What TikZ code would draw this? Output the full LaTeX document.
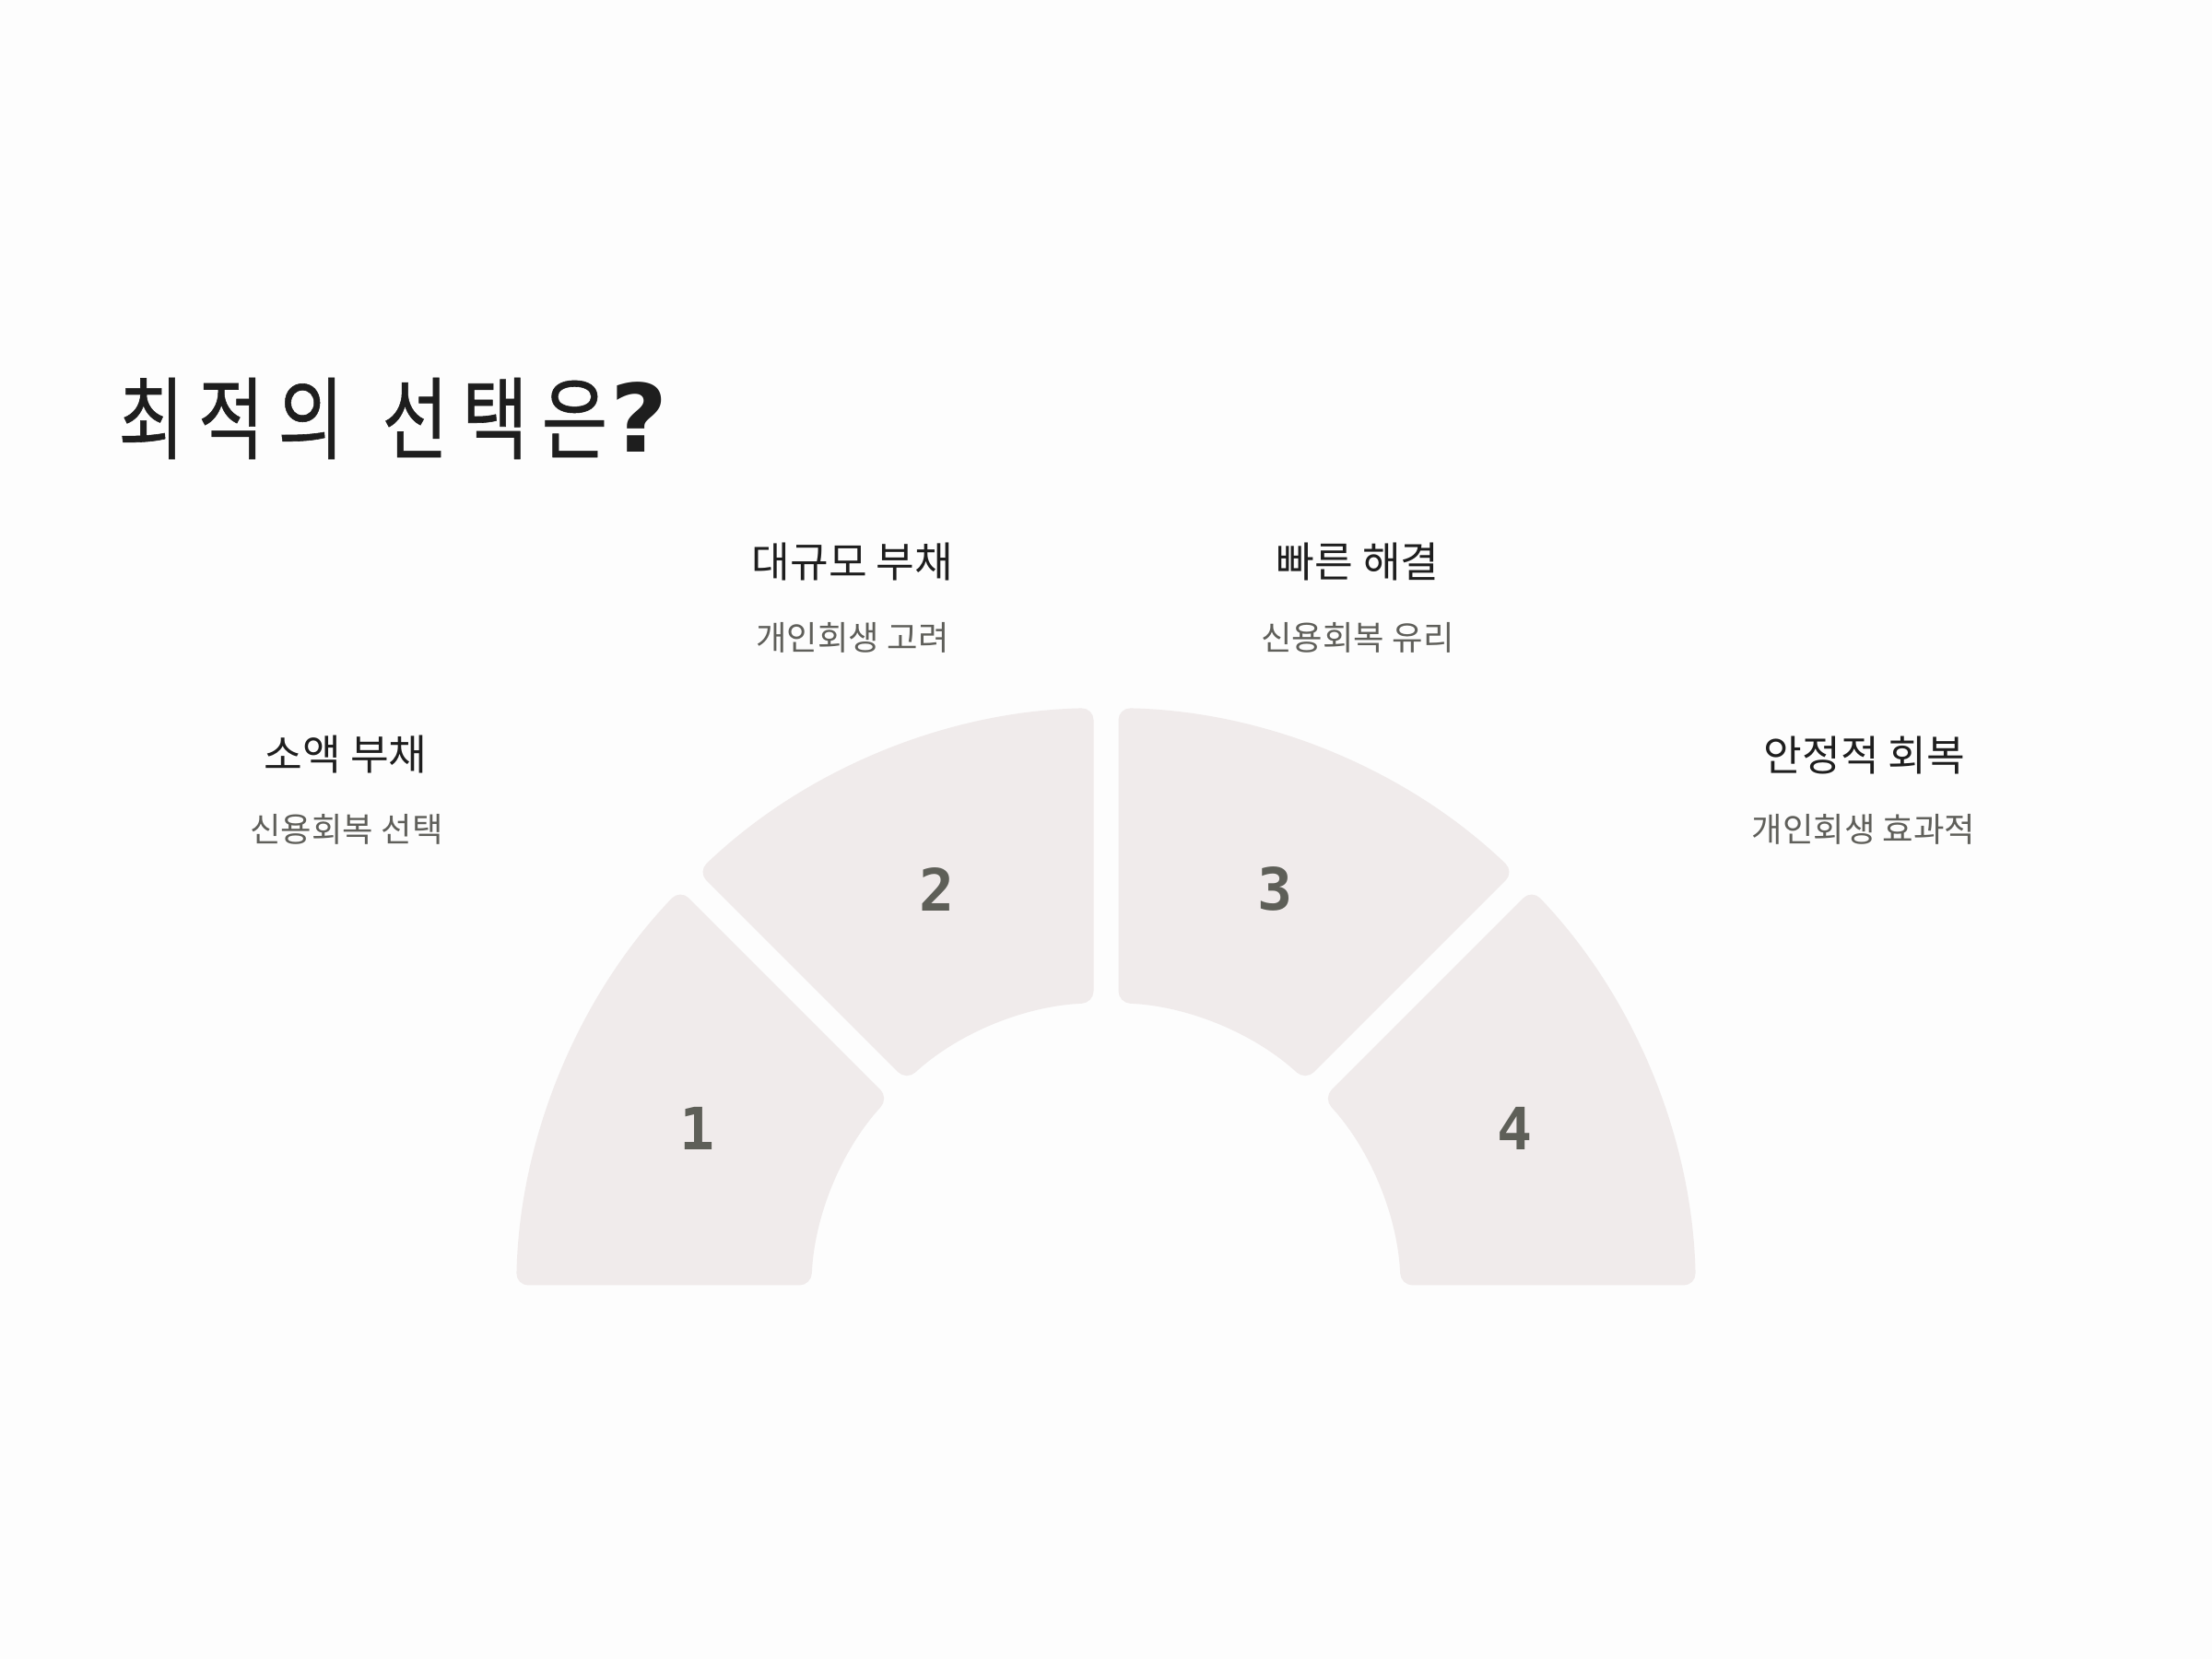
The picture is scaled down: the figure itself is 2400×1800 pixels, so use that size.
\documentclass[tikz,border=0pt]{standalone}
\usepackage{fontspec}
\setmainfont{Noto Sans CJK KR}
\newfontfamily\titlefont[FakeBold=0.6]{Noto Sans CJK KR}
\newfontfamily\numfont{DejaVu Sans Mono}
\newfontfamily\qfont{DejaVu Sans}
\definecolor{bgc}{HTML}{FDFDFD}
\definecolor{segc}{HTML}{F0EBEB}
\definecolor{titlec}{HTML}{1E1E1E}
\definecolor{headc}{HTML}{1E1E1E}
\definecolor{subc}{HTML}{5F5F5A}
\definecolor{numc}{HTML}{5E5F58}
\newcommand\tcell[1]{\makebox[0.865cm]{\scalebox{0.8}[1]{#1}}}
\begin{document}
\begin{tikzpicture}[x=0.01cm,y=0.01cm,
  seg/.style={fill=segc, rounded corners=0.13cm},
  head/.style={text=headc, font=\fontsize{12.9}{15}\selectfont, inner sep=0pt},
  sub/.style={text=subc, font=\fontsize{10.35}{12}\selectfont, inner sep=0pt},
  num/.style={text=numc, font=\numfont\bfseries\fontsize{18}{20}\selectfont, inner sep=0pt}]
\fill[bgc] (0,0) rectangle (2400,1800);
\useasboundingbox (0,0) rectangle (2400,1800);
% title
\node[anchor=west, inner sep=0pt, text=titlec, font=\titlefont\fontsize{27.7}{32}\selectfont] (title) at (120.25,1346)
  {\tcell{최}\tcell{적}\tcell{의}\hspace{0.265cm}\tcell{선}\tcell{택}\tcell{은}\makebox[0.545cm]{\qfont\bfseries\scalebox{1.1}[1.05]{?}}};
% ring segments
\begin{scope}[shift={(1200,392)}]
\foreach \a/\b in {0/45,45/90,90/135,135/180}{
  \fill[seg] ({\a+1.2087}:640) arc[start angle={\a+1.2087}, end angle={\b-1.2087}, radius=640]
     -- ({\b-2.4183}:320) arc[start angle={\b-2.4183}, end angle={\a+2.4183}, radius=320] -- cycle;
}
\node[num] (n1) at (157.5:480) {1};
\node[num] (n2) at (112.5:480) {2};
\node[num] (n3) at (67.5:480) {3};
\node[num] (n4) at (22.5:480) {4};
\end{scope}
% labels
\node[head] (h1) at (375,981) {소액 부채};
\node[sub]  (s1) at (376,900) {신용회복 선택};
\node[head] (h2) at (925,1190) {대규모 부채};
\node[sub]  (s2) at (925,1108) {개인회생 고려};
\node[head] (h3) at (1473,1190) {빠른 해결};
\node[sub]  (s3) at (1473,1108) {신용회복 유리};
\node[head] (h4) at (2023,980) {안정적 회복};
\node[sub]  (s4) at (2022,900) {개인회생 효과적};
\end{tikzpicture}
\end{document}
